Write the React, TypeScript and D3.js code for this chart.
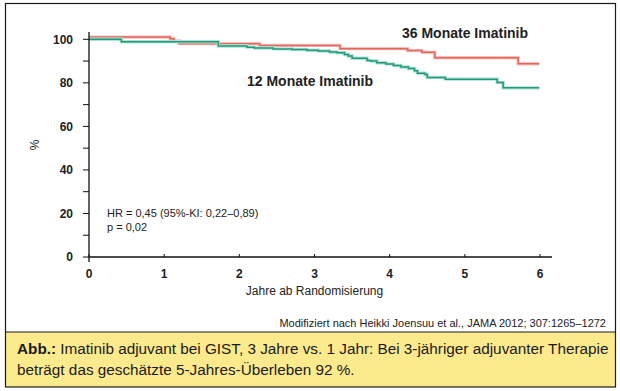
import * as d3 from 'd3';

// Kaplan-Meier steps: [year, % survival]
const arm36 = [
  [0, 101], [1.08, 100.3], [1.13, 99.2], [1.2, 98.0], [2.27, 97.2], [3.34, 95.7],
  [4.24, 94.8], [4.43, 94.0], [4.6, 91.5], [5.71, 88.8], [5.99, 88.8],
];
const arm12 = [
  [0, 100], [0.43, 98.9], [1.72, 96.9], [2.1, 96.4], [2.2, 96.0], [2.45, 95.6],
  [2.7, 95.3], [2.9, 95.0], [3.05, 94.6], [3.2, 94.2], [3.3, 93.8], [3.4, 93.0],
  [3.45, 92.3], [3.5, 91.3], [3.7, 90.3], [3.75, 90.0], [3.83, 89.2], [3.95, 88.7],
  [4.05, 88.0], [4.15, 87.3], [4.25, 86.6], [4.33, 85.5], [4.37, 84.4], [4.47, 83.8],
  [4.5, 82.5], [4.74, 81.7], [5.43, 80.2], [5.51, 77.7], [5.99, 77.7],
];
const xTicks = [0, 1, 2, 3, 4, 5, 6];
const yTicks = [0, 20, 40, 60, 80, 100];
const yMinor = [10, 30, 50, 70, 90];

const font = '"Liberation Sans", Arial, sans-serif';

export default function App() {
  const x = d3.scaleLinear().domain([0, 6]).range([89, 540]);
  const y = d3.scaleLinear().domain([0, 100]).range([257, 39.3]);

  const line = d3.line<number[]>()
    .x(d => x(d[0]))
    .y(d => y(d[1]))
    .curve(d3.curveStepAfter);

  const curves = [
    { data: arm36, color: '#e4665f', halo: '#f6c2bd' },
    { data: arm12, color: '#1f9a7c', halo: '#b0e2d3' },
  ];

  return (
    <svg width={620} height={391} style={{ position: 'absolute', left: 0, top: 0 }} fontFamily={font}>
      <rect x={0} y={0} width={620} height={391} fill="#fff" />
      {/* caption box */}
      <rect x={5.5} y={332} width={610} height={55} fill="#fcea8c" />
      <rect x={5.5} y={3.5} width={610} height={383.5} fill="none" stroke="#1a1a1a" strokeWidth={1.2} />
      <line x1={5.5} x2={615.5} y1={332} y2={332} stroke="#1a1a1a" strokeWidth={1.2} />

      {/* curves */}
      {curves.map((c, i) => (
        <g key={i}>
          <path d={line(c.data as any) || ''} fill="none" stroke={c.halo} strokeWidth={3.4} />
          <path d={line(c.data as any) || ''} fill="none" stroke={c.color} strokeWidth={1.5} />
        </g>
      ))}

      {/* axes */}
      <line x1={x(0)} x2={552} y1={y(0)} y2={y(0)} stroke="#111" strokeWidth={1.3} />
      <line x1={x(0)} x2={x(0)} y1={y(0) + 5} y2={32} stroke="#111" strokeWidth={1.3} />
      {yTicks.map(t => (
        <g key={t}>
          <line x1={x(0) - 6} x2={x(0)} y1={y(t)} y2={y(t)} stroke="#111" strokeWidth={1} />
          <text x={73} y={y(t)} dy="0.35em" textAnchor="end" fontSize={12} fontWeight="bold" fill="#222">{t}</text>
        </g>
      ))}
      {yMinor.map(t => (
        <line key={t} x1={x(0) - 6} x2={x(0)} y1={y(t)} y2={y(t)} stroke="#111" strokeWidth={1} />
      ))}
      {xTicks.map(t => (
        <g key={t}>
          <line x1={x(t)} x2={x(t)} y1={y(0)} y2={y(0) - 3} stroke="#111" strokeWidth={1} />
          <text x={x(t)} y={278} textAnchor="middle" fontSize={12} fontWeight="bold" fill="#222">{t}</text>
        </g>
      ))}
      <text x={(x(0) + x(6)) / 2} y={295} textAnchor="middle" fontSize={12} fill="#222">Jahre ab Randomisierung</text>
      <text transform="translate(39,145) rotate(-90)" textAnchor="middle" fontSize={12} fill="#222">%</text>

      {/* labels */}
      <text x={402} y={38} fontSize={14} fontWeight="bold" fill="#222">36 Monate Imatinib</text>
      <text x={247} y={86} fontSize={14} fontWeight="bold" fill="#222">12 Monate Imatinib</text>
      <text x={107} y={217} fontSize={11} fill="#222">HR = 0,45 (95%-KI: 0,22–0,89)</text>
      <text x={107} y={231} fontSize={11} fill="#222">p = 0,02</text>

      <text x={606} y={327} textAnchor="end" fontSize={11} fill="#222">Modifiziert nach Heikki Joensuu et al., JAMA 2012; 307:1265–1272</text>

      <text x={17} y={354} fontSize={15.3} fill="#1a1a1a">
        <tspan fontWeight="bold">Abb.:</tspan> Imatinib adjuvant bei GIST, 3 Jahre vs. 1 Jahr: Bei 3-jähriger adjuvanter Therapie
      </text>
      <text x={17} y={375} fontSize={15.3} fill="#1a1a1a">beträgt das geschätzte 5-Jahres-Überleben 92 %.</text>
    </svg>
  );
}
